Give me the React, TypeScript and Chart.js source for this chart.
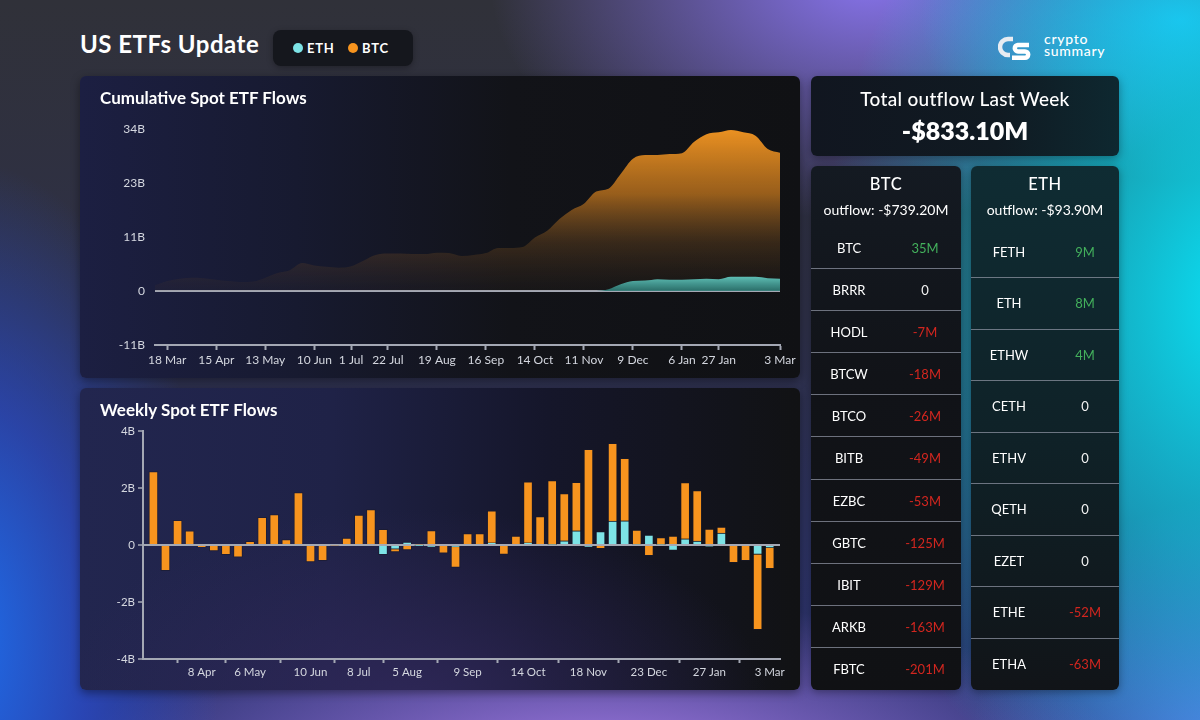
import React, { useEffect, useRef } from 'react';
import { Chart, registerables } from 'chart.js';

Chart.register(...registerables);

// ---------- DATA ----------
const WEEKS = ['11 Mar','18 Mar','25 Mar','1 Apr','8 Apr','15 Apr','22 Apr','29 Apr','6 May','13 May','20 May','27 May','3 Jun','10 Jun','17 Jun','24 Jun','1 Jul','8 Jul','15 Jul','22 Jul','29 Jul','5 Aug','12 Aug','19 Aug','26 Aug','2 Sep','9 Sep','16 Sep','23 Sep','30 Sep','7 Oct','14 Oct','21 Oct','28 Oct','4 Nov','11 Nov','18 Nov','25 Nov','2 Dec','9 Dec','16 Dec','23 Dec','30 Dec','6 Jan','13 Jan','20 Jan','27 Jan','3 Feb','10 Feb','17 Feb','24 Feb','3 Mar'];

// cumulative flows (B USD)
const BTC_CUM = [1.2,2.1,2.6,2.8,2.7,2.4,2.1,1.9,2.0,2.8,3.8,4.4,5.9,5.4,5.1,4.9,5.2,6.4,7.6,7.9,7.9,7.8,7.8,8.1,8.0,7.4,7.6,8.0,9.1,9.1,9.3,11.3,12.7,15.2,17.1,18.4,21.0,21.6,24.7,27.9,28.7,28.7,28.9,29.1,31.5,33.1,33.5,34.0,33.5,32.8,30.0,29.2];
const ETH_CUM = [0,0,0,0,0,0,0,0,0,0,0,0,0,0,0,0,0,0,0,0,0,0,0,0,0,0,0,0,0,0,0,0,0,0,0,0,0,0.35,1.4,2.1,2.2,2.5,2.4,2.4,2.5,2.6,2.5,3.0,3.0,3.0,2.7,2.6];

// weekly flows (B USD)
const BTC_WEEKLY = [2.58,-0.90,0.87,0.50,-0.08,-0.21,-0.34,-0.43,0.13,0.97,1.07,0.19,1.84,-0.59,-0.55,-0.03,0.24,1.05,1.24,0.55,-0.09,-0.17,0.03,0.51,-0.29,-0.72,0.40,0.40,1.12,-0.33,0.31,2.14,1.00,2.24,1.65,1.70,3.36,-0.13,2.73,2.19,0.49,-0.37,0.24,0.31,1.97,1.77,0.56,0.21,-0.62,-0.55,-2.64,-0.739];
const ETH_WEEKLY = [0,0,0,0,0,0,0,0,0,0,0,0,0,0,0,0,0,0,0,-0.34,-0.15,0.10,-0.01,-0.06,0,-0.07,0,0,0.08,0,0,0.08,0,0.02,0.15,0.50,-0.07,0.47,0.84,0.85,0.03,0.35,0.02,-0.19,0.22,0.14,-0.05,0.42,0,0,-0.33,-0.094];

const CUM_TICK_LABELS = ['18 Mar','15 Apr','13 May','10 Jun','1 Jul','22 Jul','19 Aug','16 Sep','14 Oct','11 Nov','9 Dec','6 Jan','27 Jan','3 Mar'];
const WEEKLY_TICK_LABELS = ['8 Apr','6 May','10 Jun','8 Jul','5 Aug','9 Sep','14 Oct','18 Nov','23 Dec','27 Jan','3 Mar'];
const CUM_Y_TICKS = [-11.4, 0, 11.4, 22.8, 34.2];
const WEEKLY_Y_TICKS = [-4, -2, 0, 2, 4];

const BTC_FUNDS = ['BTC','BRRR','HODL','BTCW','BTCO','BITB','EZBC','GBTC','IBIT','ARKB','FBTC'];
const BTC_FUND_FLOWS = [35, 0, -7, -18, -26, -49, -53, -125, -129, -163, -201];
const ETH_FUNDS = ['FETH','ETH','ETHW','CETH','ETHV','QETH','EZET','ETHE','ETHA'];
const ETH_FUND_FLOWS = [9, 8, 4, 0, 0, 0, 0, -52, -63];

const TOTAL_OUTFLOW = '-$833.10M';
const BTC_OUTFLOW = '-$739.20M';
const ETH_OUTFLOW = '-$93.90M';

// ---------- STYLE ----------
const FONT = "Lato, 'Noto Sans', 'DejaVu Sans', sans-serif";
const AXIS = '#a4a8b4';
const TICK_TXT = '#d4d7df';
const ORANGE = '#F7941E';
const CYAN = '#7DE3E6';

function CumulativeChart() {
  const ref = useRef<HTMLCanvasElement>(null);
  useEffect(() => {
    const canvas = ref.current!;
    const tickIdx = CUM_TICK_LABELS.map((l) => WEEKS.indexOf(l));
    const chart = new Chart(canvas, {
      type: 'line',
      data: {
        datasets: [
          {
            label: 'ETH',
            data: ETH_CUM.map((v, i) => ({ x: i, y: v })),
            fill: 'origin',
            borderWidth: 0,
            borderColor: 'rgba(0,0,0,0)',
            pointRadius: 0,
            tension: 0.4,
            cubicInterpolationMode: 'monotone',
            backgroundColor: (c: any) => {
              const { chart } = c;
              const { ctx, chartArea, scales } = chart;
              if (!chartArea) return 'rgba(90,190,180,0.9)';
              const y0 = scales.y.getPixelForValue(0);
              const y1 = scales.y.getPixelForValue(3.2);
              const g = ctx.createLinearGradient(0, y1, 0, y0);
              g.addColorStop(0, 'rgba(98,196,186,1)');
              g.addColorStop(1, 'rgba(45,120,115,0.9)');
              return g;
            },
          },
          {
            label: 'BTC',
            data: BTC_CUM.map((v, i) => ({ x: i, y: v })),
            fill: 'origin',
            borderWidth: 0,
            borderColor: 'rgba(0,0,0,0)',
            pointRadius: 0,
            tension: 0.4,
            cubicInterpolationMode: 'monotone',
            backgroundColor: (c: any) => {
              const { chart } = c;
              const { ctx, chartArea, scales } = chart;
              if (!chartArea) return ORANGE;
              const y0 = scales.y.getPixelForValue(0);
              const g = ctx.createLinearGradient(0, chartArea.top, 0, y0);
              g.addColorStop(0, 'rgba(236,146,34,1)');
              g.addColorStop(0.4, 'rgba(205,124,30,0.72)');
              g.addColorStop(0.7, 'rgba(140,90,35,0.32)');
              g.addColorStop(1, 'rgba(90,65,35,0.08)');
              return g;
            },
          },
        ],
      },
      options: {
        animation: false,
        responsive: false,
        layout: { padding: { top: 53, right: 20, left: 0, bottom: 0 } },
        plugins: { legend: { display: false }, tooltip: { enabled: false } },
        scales: {
          x: {
            type: 'linear',
            min: 0,
            max: 51,
            afterBuildTicks: (s: any) => { s.ticks = tickIdx.map((v) => ({ value: v })); },
            afterFit: (s: any) => { s.height = 33; },
            ticks: {
              autoSkip: false,
              maxRotation: 0,
              padding: 3,
              color: TICK_TXT,
              font: { family: FONT, size: 12 },
              callback: (v: any) => WEEKS[Math.round(v)],
            },
            grid: { drawOnChartArea: false, tickLength: 5, tickColor: AXIS, tickWidth: 2 },
            border: { color: AXIS, width: 2 },
          },
          y: {
            type: 'linear',
            min: -11.4,
            max: 34.2,
            afterBuildTicks: (s: any) => { s.ticks = CUM_Y_TICKS.map((v) => ({ value: v })); },
            afterFit: (s: any) => { s.width = 75; },
            ticks: {
              padding: 10,
              color: TICK_TXT,
              font: { family: FONT, size: 12 },
              callback: (v: any) => (v === 0 ? '0' : Math.round(v) + 'B'),
            },
            grid: {
              drawTicks: false,
              lineWidth: 2,
              color: (c: any) => (c.tick && c.tick.value === 0 ? AXIS : 'rgba(0,0,0,0)'),
            },
            border: { display: false },
          },
        },
      } as any,
    });
    return () => chart.destroy();
  }, []);
  return <canvas ref={ref} width={720} height={302} style={{ position: 'absolute', left: 0, top: 0 }} />;
}

function WeeklyChart() {
  const ref = useRef<HTMLCanvasElement>(null);
  useEffect(() => {
    const canvas = ref.current!;
    const tickIdx = WEEKLY_TICK_LABELS.map((l) => WEEKS.indexOf(l));
    const chart = new Chart(canvas, {
      type: 'bar',
      data: {
        datasets: [
          {
            label: 'ETH',
            data: ETH_WEEKLY.map((v, i) => ({ x: i, y: v })),
            backgroundColor: CYAN,
            borderColor: 'rgba(25,25,40,0.55)',
            borderWidth: 1,
            barThickness: 9,
          },
          {
            label: 'BTC',
            data: BTC_WEEKLY.map((v, i) => ({ x: i, y: v })),
            backgroundColor: ORANGE,
            borderColor: 'rgba(25,25,40,0.55)',
            borderWidth: 1,
            barThickness: 9,
          },
        ],
      },
      options: {
        animation: false,
        responsive: false,
        layout: { padding: { top: 43, right: 20, left: 0, bottom: 0 } },
        plugins: { legend: { display: false }, tooltip: { enabled: false } },
        scales: {
          x: {
            type: 'linear',
            stacked: true,
            min: -0.86,
            max: 51.85,
            offset: false,
            afterBuildTicks: (s: any) => { s.ticks = tickIdx.map((v) => ({ value: v })); },
            afterFit: (s: any) => { s.height = 31; },
            ticks: {
              autoSkip: false,
              maxRotation: 0,
              padding: 2,
              color: TICK_TXT,
              font: { family: FONT, size: 11.5 },
              callback: (v: any) => WEEKS[Math.round(v)],
            },
            grid: { drawOnChartArea: false, tickLength: 4, tickColor: AXIS, tickWidth: 2 },
            border: { color: AXIS, width: 2 },
          },
          y: {
            type: 'linear',
            stacked: true,
            min: -4,
            max: 4,
            afterBuildTicks: (s: any) => { s.ticks = WEEKLY_Y_TICKS.map((v) => ({ value: v })); },
            afterFit: (s: any) => { s.width = 63; },
            ticks: {
              padding: 3,
              color: TICK_TXT,
              font: { family: FONT, size: 11.5 },
              callback: (v: any) => (v === 0 ? '0' : v + 'B'),
            },
            grid: {
              tickLength: 5,
              tickColor: AXIS,
              tickWidth: 1.5,
              lineWidth: 2,
              color: (c: any) => (c.tick && c.tick.value === 0 ? AXIS : 'rgba(0,0,0,0)'),
            },
            border: { color: AXIS, width: 2 },
          },
        },
      } as any,
    });
    return () => chart.destroy();
  }, []);
  return <canvas ref={ref} width={720} height={302} style={{ position: 'absolute', left: 0, top: 0 }} />;
}

function flowText(v: number) {
  return v === 0 ? '0' : v + 'M';
}
function flowColor(v: number) {
  return v > 0 ? '#43b05c' : v < 0 ? '#d2261f' : '#f2f2f2';
}

function FundTable(props: { left: number; width: number; title: string; outflow: string; funds: string[]; flows: number[]; bg: string }) {
  const { left, width, title, outflow, funds, flows, bg } = props;
  const top = 166;
  const height = 524;
  const rowsTop = 61;
  const rowH = (height - rowsTop) / funds.length;
  return (
    <div
      style={{
        position: 'absolute', left, top, width, height, borderRadius: 6, background: bg,
        boxShadow: '0 2px 8px rgba(0,0,0,0.35)', overflow: 'hidden', color: '#fff', fontFamily: FONT,
      }}
    >
      <div style={{ position: 'absolute', left: 0, width, top: 8, textAlign: 'center', fontSize: 16.5, fontWeight: 500, letterSpacing: 0.5 }}>{title}</div>
      <div style={{ position: 'absolute', left: 0, width, top: 35, textAlign: 'center', fontSize: 14 }}>outflow: {outflow}</div>
      {funds.map((f, i) => (
        <div
          key={f}
          style={{
            position: 'absolute', left: 0, width, top: rowsTop + i * rowH, height: rowH,
            borderBottom: i < funds.length - 1 ? '1px solid rgba(140,146,160,0.75)' : 'none', boxSizing: 'border-box',
          }}
        >
          <div style={{ position: 'absolute', left: 0, width: 76, top: 0, lineHeight: rowH + 'px', textAlign: 'center', fontSize: 13 }}>{f}</div>
          <div style={{ position: 'absolute', left: 76, width: 76, top: 0, lineHeight: rowH + 'px', textAlign: 'center', fontSize: 13, color: flowColor(flows[i]) }}>{flowText(flows[i])}</div>
        </div>
      ))}
    </div>
  );
}

export default function App() {
  const pageBg = [
    'radial-gradient(ellipse 420px 560px at 1240px 300px, rgba(10,225,245,1) 0%, rgba(10,225,245,0.6) 45%, rgba(10,225,245,0) 100%)',
    'radial-gradient(ellipse 260px 160px at 1180px 20px, rgba(40,180,245,0.9) 0%, rgba(40,180,245,0) 100%)',
    'radial-gradient(ellipse 380px 240px at 870px -20px, rgba(135,115,235,1) 0%, rgba(135,115,235,0) 100%)',
    'radial-gradient(ellipse 260px 480px at -40px 640px, rgba(30,110,235,1) 0%, rgba(40,80,220,0.6) 50%, rgba(40,80,220,0) 100%)',
    'radial-gradient(ellipse 520px 160px at 600px 760px, rgba(160,120,225,1) 0%, rgba(160,120,225,0) 100%)',
    'radial-gradient(ellipse 260px 260px at 1230px 760px, rgba(100,110,230,1) 0%, rgba(100,110,230,0) 100%)',
    'linear-gradient(180deg, #303139 0%, #2e3048 45%, #2c3476 100%)',
  ].join(',');

  return (
    <div style={{ position: 'fixed', left: 0, top: 0, width: 1200, height: 720, overflow: 'hidden', background: pageBg, fontFamily: FONT }}>
      {/* Title */}
      <div style={{ position: 'absolute', left: 80, top: 29, fontSize: 24, fontWeight: 700, color: '#fff', letterSpacing: 0.5 }}>US ETFs Update</div>
      {/* Legend pill */}
      <div style={{ position: 'absolute', left: 273, top: 30, width: 140, height: 36, borderRadius: 8, background: '#15171d', boxShadow: '0 2px 6px rgba(0,0,0,0.3)', color: '#fff', fontSize: 13, fontWeight: 700, letterSpacing: 0.8 }}>
        <div style={{ position: 'absolute', left: 20, top: 13, width: 10, height: 10, borderRadius: 5, background: CYAN }} />
        <div style={{ position: 'absolute', left: 34, top: 10 }}>ETH</div>
        <div style={{ position: 'absolute', left: 75, top: 13, width: 10, height: 10, borderRadius: 5, background: ORANGE }} />
        <div style={{ position: 'absolute', left: 89, top: 10 }}>BTC</div>
      </div>
      {/* Logo */}
      <div style={{ position: 'absolute', left: 998, top: 35 }}>
        <svg width="34" height="28" viewBox="0 0 34 28">
          <path d="M15 4 H10 A8 8 0 0 0 10 20 H12" stroke="#e8ecf2" strokeWidth="4.5" fill="none" />
          <path d="M31 10 H20 A3.2 3.2 0 0 0 20 16.4 H27 A3.2 3.2 0 0 1 27 22.8 H14" stroke="#ffffff" strokeWidth="4.5" fill="none" />
        </svg>
      </div>
      <div style={{ position: 'absolute', left: 1044, top: 33, color: '#fff', fontSize: 14, lineHeight: '12px', fontWeight: 500, letterSpacing: 0.7 }}>
        <div>crypto</div>
        <div>summary</div>
      </div>

      {/* Cumulative panel */}
      <div style={{ position: 'absolute', left: 80, top: 76, width: 720, height: 302, borderRadius: 6, overflow: 'hidden', boxShadow: '0 3px 10px rgba(0,0,0,0.4)', background: 'linear-gradient(90deg, #1c1f42 0%, #171a30 30%, #121318 60%, #101114 100%)' }}>
        <CumulativeChart />
        <div style={{ position: 'absolute', left: 20, top: 11, color: '#fff', fontSize: 17, fontWeight: 700 }}>Cumulative Spot ETF Flows</div>
      </div>

      {/* Weekly panel */}
      <div style={{ position: 'absolute', left: 80, top: 388, width: 720, height: 302, borderRadius: 6, overflow: 'hidden', boxShadow: '0 3px 10px rgba(0,0,0,0.4)', background: 'radial-gradient(ellipse 360px 200px at 330px 320px, rgba(48,40,90,0.9) 0%, rgba(48,40,90,0) 100%), linear-gradient(90deg, #22264f 0%, #1f2247 35%, #15162a 65%, #111214 100%)' }}>
        <WeeklyChart />
        <div style={{ position: 'absolute', left: 20, top: 11, color: '#fff', fontSize: 17, fontWeight: 700 }}>Weekly Spot ETF Flows</div>
      </div>

      {/* Total outflow */}
      <div style={{ position: 'absolute', left: 811, top: 76, width: 308, height: 80, borderRadius: 6, boxShadow: '0 3px 10px rgba(0,0,0,0.35)', background: 'linear-gradient(90deg, #111620 0%, #101a22 60%, #0e2830 100%)', color: '#fff', textAlign: 'center' }}>
        <div style={{ position: 'absolute', left: 0, width: 308, top: 11, fontSize: 19, fontWeight: 500, letterSpacing: 0.3 }}>Total outflow Last Week</div>
        <div style={{ position: 'absolute', left: 0, width: 308, top: 39, fontSize: 25, fontWeight: 800 }}>{TOTAL_OUTFLOW}</div>
      </div>

      <FundTable left={811} width={150} title="BTC" outflow={BTC_OUTFLOW} funds={BTC_FUNDS} flows={BTC_FUND_FLOWS} bg="linear-gradient(180deg, #141a22 0%, #111318 40%, #101114 100%)" />
      <FundTable left={971} width={148} title="ETH" outflow={ETH_OUTFLOW} funds={ETH_FUNDS} flows={ETH_FUND_FLOWS} bg="linear-gradient(180deg, #0f2c33 0%, #0f2228 50%, #111418 100%)" />
    </div>
  );
}
